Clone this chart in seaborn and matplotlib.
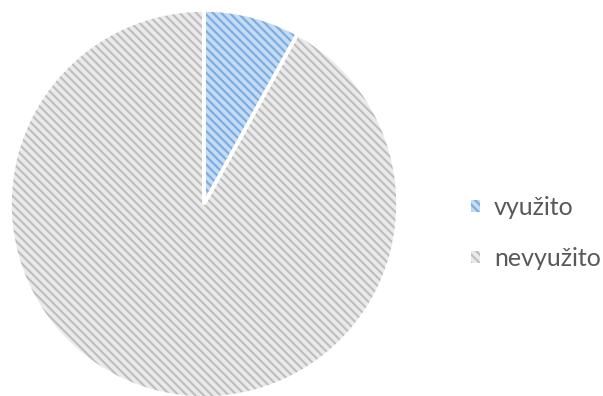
import matplotlib
matplotlib.use("Agg")
import matplotlib.pyplot as plt
from matplotlib.patches import Patch
import seaborn as sns

labels = ["využito", "nevyužito"]
shares = [8, 92]
fill_colors = ["#c4dbf3", "#eaeaea"]
stripe_colors = ["#78ace0", "#bebebe"]

sns.set_theme(style="white")
plt.rcParams["font.family"] = ["Lato", "DejaVu Sans"]
plt.rcParams["hatch.linewidth"] = 1.5

fig = plt.figure(figsize=(6.03, 3.96), dpi=100)
ax = fig.add_axes([10 / 603, -2 / 396, 388 / 603, 388 / 396])

# hatched slices (hatch colour follows the edge colour)
wedges, _ = ax.pie(shares, colors=fill_colors, startangle=90, counterclock=False,
                   radius=1.0, wedgeprops=dict(linewidth=0))
for w, sc in zip(wedges, stripe_colors):
    w.set_edgecolor(sc)
    w.set_hatch("\\\\\\\\")
    w.set_linewidth(0)

# white separators on top
ax.pie(shares, colors=["none", "none"], startangle=90, counterclock=False,
       radius=1.0, wedgeprops=dict(linewidth=2.6, edgecolor="white", fill=False))

ax.set_xlim(-1, 1)
ax.set_ylim(-1, 1)
ax.set_axis_off()

handles = [Patch(facecolor=f, edgecolor=s, hatch="\\\\\\\\", linewidth=0)
           for f, s in zip(fill_colors, stripe_colors)]
fig.legend(handles, labels, loc="center left", bbox_to_anchor=(471 / 603, 1 - 233 / 396),
           frameon=False, fontsize=18, labelcolor="#595959",
           borderpad=0, borderaxespad=0,
           handlelength=0.36, handleheight=0.36, handletextpad=0.55,
           labelspacing=1.12)

fig.savefig("out.png", dpi=100, facecolor="white")
